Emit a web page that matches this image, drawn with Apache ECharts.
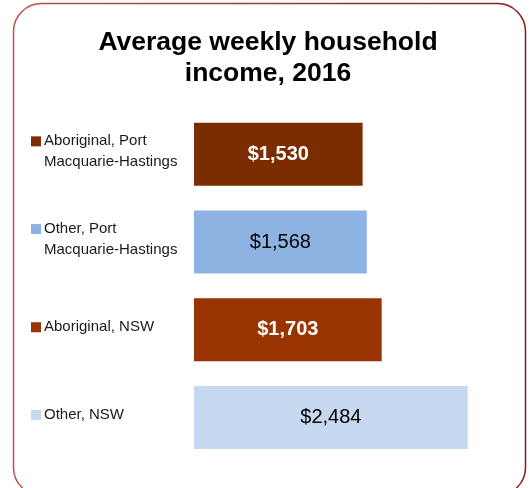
<!DOCTYPE html>
<html>
<head>
<meta charset="utf-8">
<script src="https://cdn.jsdelivr.net/npm/echarts@6/dist/echarts.min.js"></script>
<style>
    html, body { margin: 0; padding: 0; background: #fff; }
    #chart { width: 531px; height: 488px; }
</style>
</head>
<body>
<div id="chart"></div>
<script>
var categories = ['Aboriginal, Port\nMacquarie-Hastings', 'Other, Port\nMacquarie-Hastings', 'Aboriginal, NSW', 'Other, NSW'];
var incomes = [1530, 1568, 1703, 2484];
var barColors = ['#7B2C00', '#8DB3E2', '#993300', '#C6D9F1'];
var labelColors = ['#ffffff', '#000000', '#ffffff', '#000000'];
var labelWeights = ['bold', 'normal', 'bold', 'normal'];

var FONT = "'Liberation Sans', Arial, Helvetica, sans-serif";

function $each(arr, fn) {
    for (var i = 0; i < arr.length; i++) fn(i, arr[i]);
}

var richStyles = {
    t: { fontSize: 15, color: '#1a1a1a', fontFamily: FONT, lineHeight: 21 },
    sp: { width: 13, height: 10 }
};
$each(barColors, function (i, c) {
    richStyles['sq' + i] = { width: 10, height: 10, backgroundColor: c };
    richStyles['g' + i] = { width: 3, height: 10 };
});

// category label with coloured square in front, second line indented
function catLabel(value, idx) {
    var lines = value.split('\n');
    var out = '{sq' + idx + '|}{g' + idx + '|}{t|' + lines[0] + '}';
    for (var k = 1; k < lines.length; k++) {
        out += '\n{sp|}{t|' + lines[k] + '}';
    }
    return out;
}

var barData = [];
$each(incomes, function (i, v) {
    barData.push({
        value: v,
        itemStyle: { color: barColors[i] },
        label: { color: labelColors[i], fontWeight: labelWeights[i] }
    });
});

var myChart = echarts.init(document.getElementById('chart'), null, { renderer: 'canvas' });
myChart.setOption({
    animation: false,
    backgroundColor: '#ffffff',
    title: {
        text: 'Average weekly household\nincome, 2016',
        left: 263,
        textAlign: 'center',
        top: 22,
        textStyle: {
            fontFamily: FONT,
            fontSize: 26.5,
            fontWeight: 'bold',
            color: '#000',
            lineHeight: 31
        }
    },
    graphic: [{
        type: 'rect',
        shape: { x: 13.5, y: 3.5, width: 512, height: 492, r: 28 },
        style: {
            fill: 'none',
            lineWidth: 1.5,
            stroke: {
                type: 'linear', x: 0, y: 0, x2: 1, y2: 0,
                colorStops: [{ offset: 0, color: '#C0504D' }, { offset: 1, color: '#8B1A1A' }]
            }
        },
        silent: true
    }],
    grid: {
        left: 194,
        right: 6.4,
        top: 110.5,
        height: 350.8
    },
    xAxis: {
        type: 'value',
        min: 0,
        max: 3000,
        show: false
    },
    yAxis: {
        type: 'category',
        data: categories,
        inverse: true,
        axisLine: { show: false },
        axisTick: { show: false },
        axisLabel: {
            align: 'left',
            margin: 163,
            padding: [0, 0, 5, 0],
            formatter: catLabel,
            rich: richStyles
        }
    },
    series: [{
        type: 'bar',
        barWidth: 63,
        data: barData,
        label: {
            show: true,
            position: 'inside',
            fontFamily: FONT,
            fontSize: 20,
            formatter: function (p) {
                return '$' + p.value.toLocaleString('en-US');
            }
        }
    }]
});
</script>
</body>
</html>
